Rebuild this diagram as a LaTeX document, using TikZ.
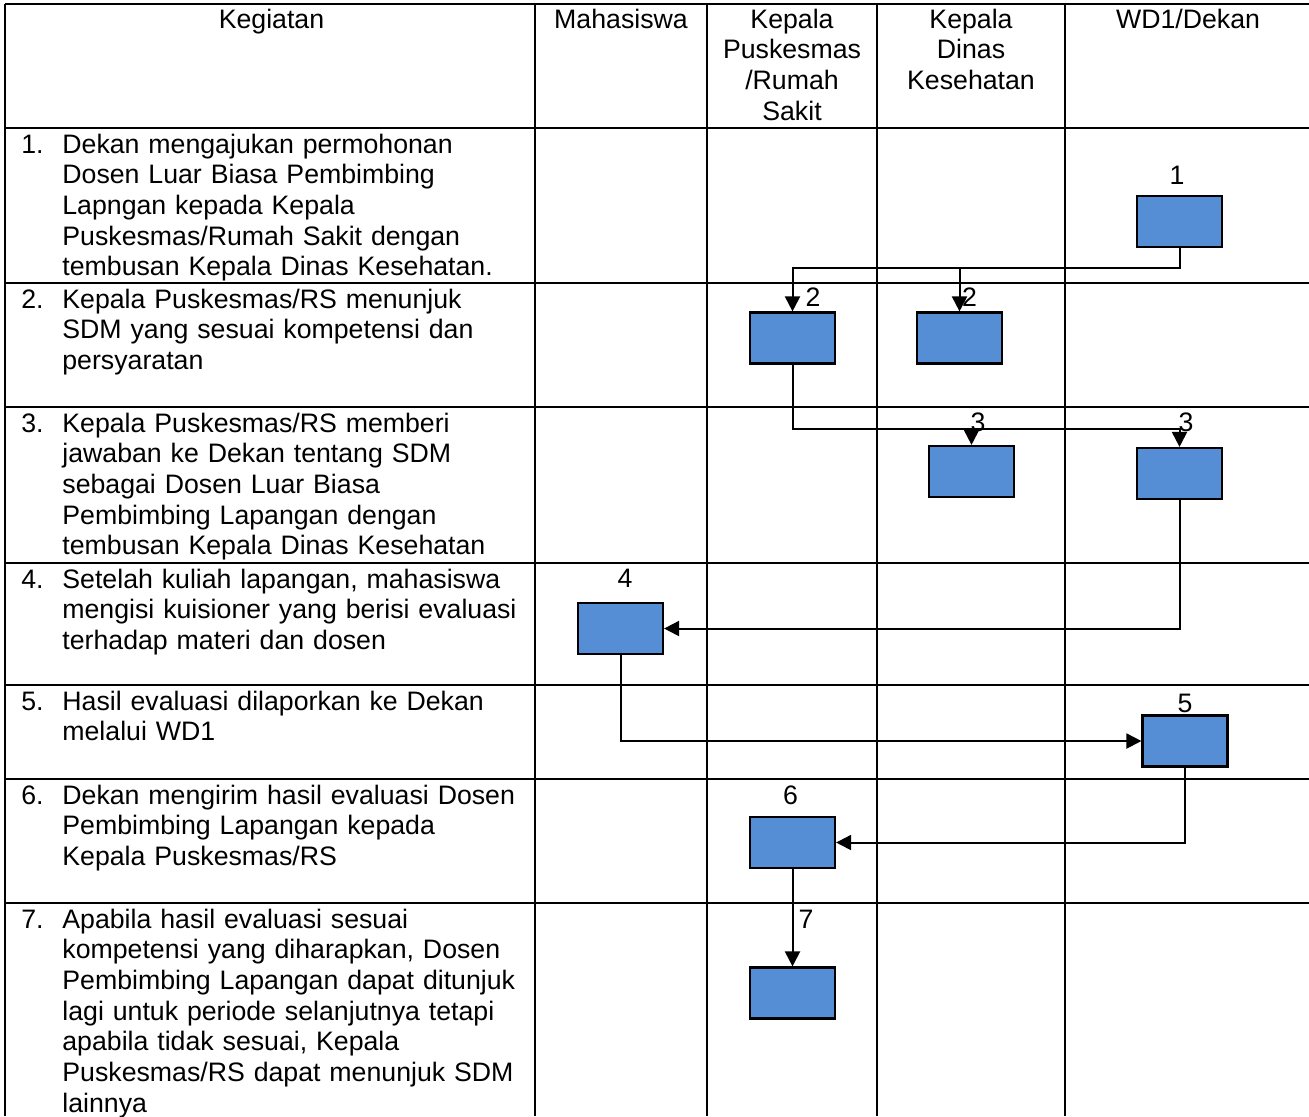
\documentclass[tikz,border=0pt]{standalone}
\usepackage{fontspec}
\setmainfont{Liberation Sans}
\usetikzlibrary{arrows.meta}

\definecolor{boxblue}{RGB}{85,142,213}

\begin{document}
\begin{tikzpicture}[x=0.5pt,y=-0.5pt,
    font=\fontsize{13.35}{15.35}\selectfont,
    grid/.style={line width=1.1pt},
    actbox/.style={draw,line width=1.1pt,fill=boxblue,minimum width=42.5pt,minimum height=25.5pt,inner sep=0pt},
    flow/.style={line width=1pt,-{Triangle[length=7.5pt,width=7.5pt]}},
    numlbl/.style={inner sep=0pt},
    head/.style={anchor=base,align=center,text width=85pt,inner sep=0pt},
    rownum/.style={anchor=base west,inner sep=0pt},
    rowtxt/.style={anchor=base west,align=left,text width=250pt,inner sep=0pt}]
    \useasboundingbox (0,0) rectangle (1309,1116);

    % table
    \foreach \y in {4,128,283,407,563,685,779,903}
        \draw[grid] (5,\y) -- (1309,\y);
    \foreach \x in {5,535,707,877,1065}
        \draw[grid] (\x,4) -- (\x,1116);

    % header
    \node[head] (hkeg) at (271.5,28) {Kegiatan};
    \node[head] (hmhs) at (621,28) {Mahasiswa};
    \node[head] (hpkm) at (792,28) {Kepala\\Puskesmas\\/Rumah\\Sakit};
    \node[head] (hdin) at (971,28) {Kepala\\Dinas\\Kesehatan};
    \node[head] (hwd) at (1188,28) {WD1/Dekan};

    % kegiatan
    \node[rownum] (k1) at (21,153) {1.};
    \node[rowtxt] (t1) at (62,153) {Dekan mengajukan permohonan\\Dosen Luar Biasa Pembimbing\\Lapngan kepada Kepala\\Puskesmas/Rumah Sakit dengan\\tembusan Kepala Dinas Kesehatan.};
    \node[rownum] (k2) at (21,308) {2.};
    \node[rowtxt] (t2) at (62,308) {Kepala Puskesmas/RS menunjuk\\SDM yang sesuai kompetensi dan\\persyaratan};
    \node[rownum] (k3) at (21,432) {3.};
    \node[rowtxt] (t3) at (62,432) {Kepala Puskesmas/RS memberi\\jawaban ke Dekan tentang SDM\\sebagai Dosen Luar Biasa\\Pembimbing Lapangan dengan\\tembusan Kepala Dinas Kesehatan};
    \node[rownum] (k4) at (21,588) {4.};
    \node[rowtxt] (t4) at (62,588) {Setelah kuliah lapangan, mahasiswa\\mengisi kuisioner yang berisi evaluasi\\terhadap materi dan dosen};
    \node[rownum] (k5) at (21,710) {5.};
    \node[rowtxt] (t5) at (62,710) {Hasil evaluasi dilaporkan ke Dekan\\melalui WD1};
    \node[rownum] (k6) at (21,804) {6.};
    \node[rowtxt] (t6) at (62,804) {Dekan mengirim hasil evaluasi Dosen\\Pembimbing Lapangan kepada\\Kepala Puskesmas/RS};
    \node[rownum] (k7) at (21,928) {7.};
    \node[rowtxt] (t7) at (62,928) {Apabila hasil evaluasi sesuai\\kompetensi yang diharapkan, Dosen\\Pembimbing Lapangan dapat ditunjuk\\lagi untuk periode selanjutnya tetapi\\apabila tidak sesuai, Kepala\\Puskesmas/RS dapat menunjuk SDM\\lainnya};

    % kotak kegiatan
    \node[actbox] (b1) at (1179.5,221.5) {};
    \node[actbox] (b2a) at (792.5,338) {};
    \node[actbox] (b2b) at (959.5,338) {};
    \node[actbox] (b3a) at (971.5,471.5) {};
    \node[actbox] (b3b) at (1179.5,473.5) {};
    \node[actbox] (b4) at (620.5,628.5) {};
    \node[actbox] (b5) at (1185,741) {};
    \node[actbox] (b6) at (792.5,842.5) {};
    \node[actbox] (b7) at (792.5,993) {};

    \node[numlbl] (n1) at (1177,175) {1};
    \node[numlbl] (n2a) at (813,297.5) {2};
    \node[numlbl] (n2b) at (969.5,297.5) {2};
    \node[numlbl] (n3a) at (978,422) {3};
    \node[numlbl] (n3b) at (1186,422) {3};
    \node[numlbl] (n4) at (625,578.5) {4};
    \node[numlbl] (n5) at (1185,703) {5};
    \node[numlbl] (n6) at (790.5,795) {6};
    \node[numlbl] (n7) at (806,919) {7};

    % alur
    \coordinate (j1) at (1179.5,268);
    \coordinate (j2) at (792.5,429);
    \draw[flow] (b1.south) -- (j1) -| (b2a.north);
    \draw[flow] (j1) -| (b2b.north);
    \draw[flow] (b2a.south) -- (j2) -| (b3b.north);
    \draw[flow] (j2) -| (b3a.north);
    \draw[flow] (b3b.south) |- (b4.east);
    \draw[flow] (b4.south) |- (b5.west);
    \draw[flow] (b5.south) |- (b6.east);
    \draw[flow] (b6.south) -- (b7.north);
\end{tikzpicture}
\end{document}
